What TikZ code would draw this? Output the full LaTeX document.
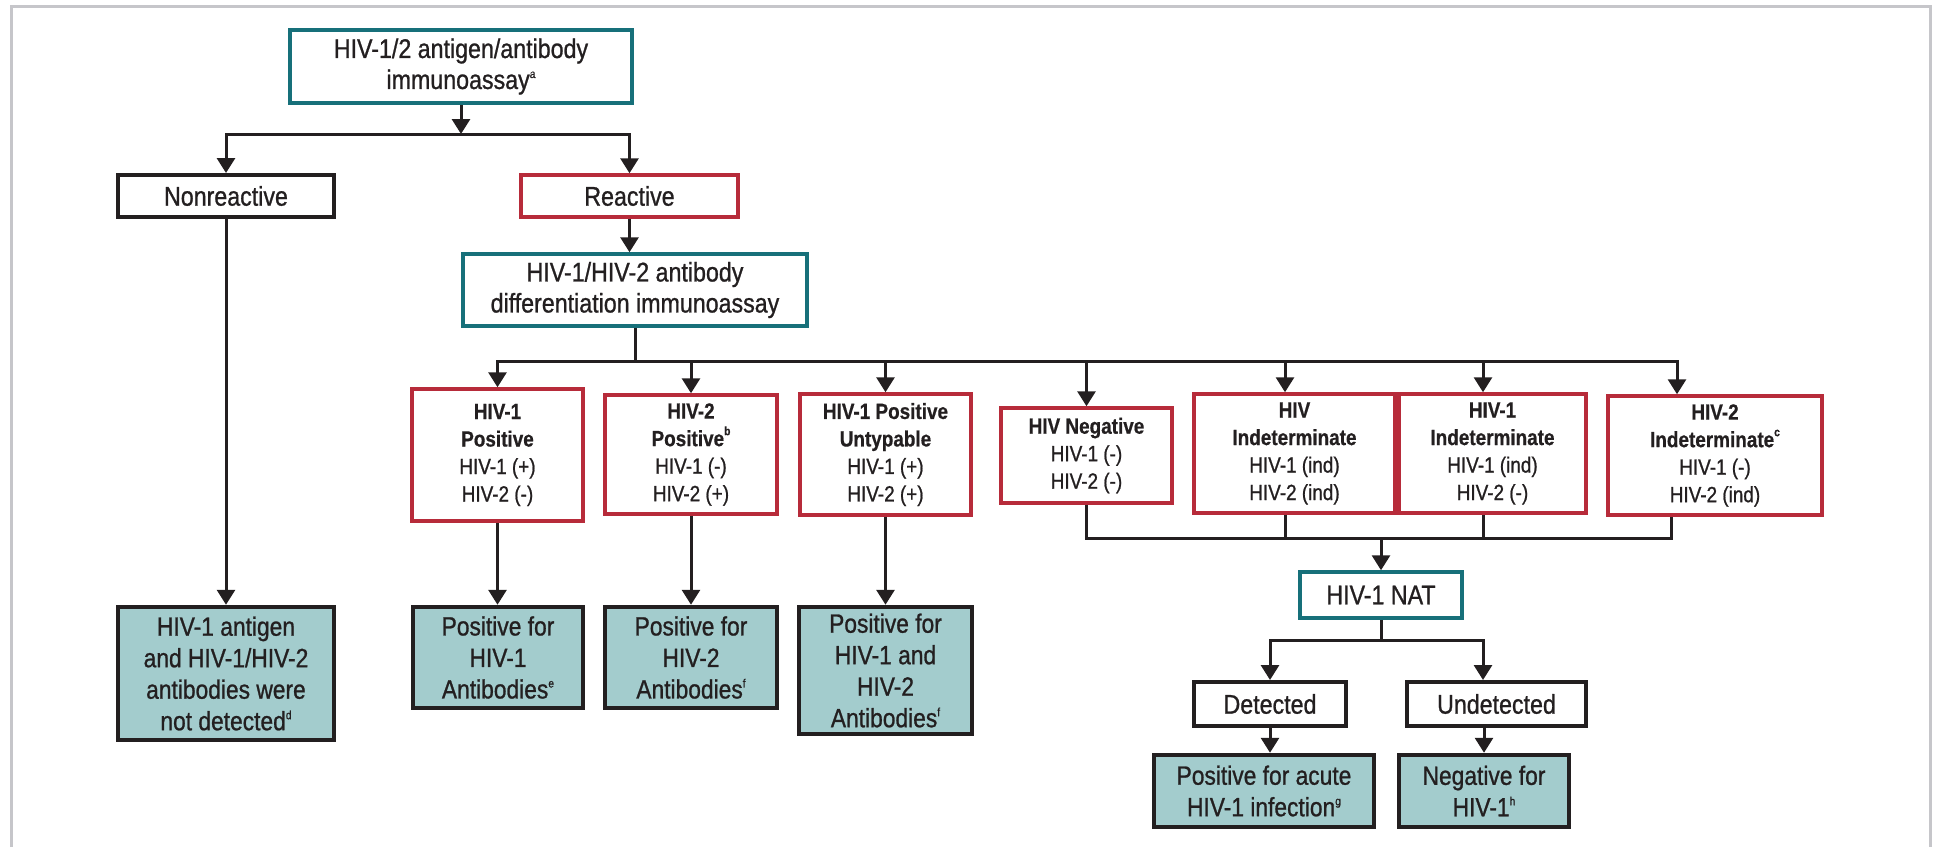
\documentclass[tikz,border=0pt]{standalone}
\usepackage{fontspec}
\setmainfont{Liberation Sans}[FakeStretch=0.86, UprightFeatures={FakeBold=0.9}, BoldFeatures={FakeBold=0.6}]
\usetikzlibrary{arrows.meta}
\definecolor{teal1}{HTML}{17707A}
\definecolor{red1}{HTML}{B72B3A}
\definecolor{fill1}{HTML}{A3CCCD}
\definecolor{ink}{HTML}{231F20}
\definecolor{frame1}{HTML}{C6C6CA}
\newcommand{\fnote}[1]{\raisebox{11pt}{\fontsize{12}{12}\selectfont #1}}
\tikzset{
  box/.style={draw, rectangle, inner sep=0pt, align=center, text=ink, fill=white},
  teal box/.style={box, draw=teal1, line width=3.5pt, font=\fontsize{27}{31}\selectfont},
  plain box/.style={box, draw=ink, line width=4pt, font=\fontsize{27}{31}\selectfont},
  red box/.style={box, draw=red1, line width=3.5pt, font=\fontsize{22}{27.5}\selectfont},
  result/.style={box, draw=ink, fill=fill1, line width=4.5pt, font=\fontsize{26.5}{31.5}\selectfont},
  conn/.style={draw=ink, line width=3pt},
  arr/.style={conn, -{Triangle[width=18pt,length=15pt]}},
  arrs/.style={conn, {Triangle[width=18pt,length=15pt]}-{Triangle[width=18pt,length=15pt]}},
}
\begin{document}
\begin{tikzpicture}[x=1pt, y=-1pt]
\useasboundingbox (0,0) rectangle (1935,847);
\draw[frame1, line width=3pt] (11,847) -- (11,6) -- (1930,6) -- (1930,847);

% top level
\node[teal box, minimum width=342pt, minimum height=73pt] (top) at (461,66.5)
  {HIV-1/2 antigen/antibody\\immunoassay\fnote{a}};
\node[plain box, minimum width=216pt, minimum height=42pt] (nonr) at (226,196) {Nonreactive};
\node[red box, font=\fontsize{27}{31}\selectfont, minimum width=217pt, minimum height=42pt] (reac) at (629.5,196) {Reactive};
\node[teal box, minimum width=344pt, minimum height=72pt] (diff) at (635,290)
  {HIV-1/HIV-2 antibody\\differentiation immunoassay};

% second level (red boxes)
\node[red box, minimum width=171pt, minimum height=132pt] (p1) at (497.5,455)
  {\textbf{HIV-1}\\\textbf{Positive}\\HIV-1 (+)\\HIV-2 (-)};
\node[red box, minimum width=172pt, minimum height=119pt] (p2) at (691,454.5)
  {\textbf{HIV-2}\\\textbf{Positive\fnote{b}}\\HIV-1 (-)\\HIV-2 (+)};
\node[red box, minimum width=171pt, minimum height=121pt] (pu) at (885.5,454.5)
  {\textbf{HIV-1 Positive}\\\textbf{Untypable}\\HIV-1 (+)\\HIV-2 (+)};
\node[red box, minimum width=171pt, minimum height=95pt] (neg) at (1086.5,455.5)
  {\textbf{HIV Negative}\\HIV-1 (-)\\HIV-2 (-)};
\node[red box, minimum width=201pt, minimum height=119pt] (ind) at (1294.5,453.5)
  {\textbf{HIV}\\\textbf{Indeterminate}\\HIV-1 (ind)\\HIV-2 (ind)};
\node[red box, minimum width=187pt, minimum height=119pt] (ind1) at (1492.5,453.5)
  {\textbf{HIV-1}\\\textbf{Indeterminate}\\HIV-1 (ind)\\HIV-2 (-)};
\node[red box, minimum width=214pt, minimum height=119pt] (ind2) at (1715,455.5)
  {\textbf{HIV-2}\\\textbf{Indeterminate\fnote{c}}\\HIV-1 (-)\\HIV-2 (ind)};

% results
\node[result, minimum width=216pt, minimum height=133pt] (rnr) at (226,673.5)
  {HIV-1 antigen\\and HIV-1/HIV-2\\antibodies were\\not detected\fnote{d}};
\node[result, minimum width=170pt, minimum height=101pt] (r1) at (498,657.5)
  {Positive for\\HIV-1\\Antibodies\fnote{e}};
\node[result, minimum width=172pt, minimum height=101pt] (r2) at (691,657.5)
  {Positive for\\HIV-2\\Antibodies\fnote{f}};
\node[result, minimum width=173pt, minimum height=127pt] (ru) at (885.5,670.5)
  {Positive for\\HIV-1 and\\HIV-2\\Antibodies\fnote{f}};

% NAT branch
\node[teal box, minimum width=162pt, minimum height=46pt] (nat) at (1381,595) {HIV-1 NAT};
\node[plain box, minimum width=152pt, minimum height=44pt] (det) at (1270,704) {Detected};
\node[plain box, minimum width=179pt, minimum height=44pt] (undet) at (1496.5,704) {Undetected};
\node[result, minimum width=220pt, minimum height=72pt] (acute) at (1264,791)
  {Positive for acute\\HIV-1 infection\fnote{g}};
\node[result, minimum width=170pt, minimum height=72pt] (negh) at (1484,791)
  {Negative for\\HIV-1\fnote{h}};

% helper coordinates
\coordinate (b1) at (461,134);
\coordinate (b2) at (640,361);
\coordinate (b3) at (1378,538);
\coordinate (b4) at (1381,640);
\coordinate (aind) at ([xshift=-9.5pt]ind.north);
\coordinate (aind1) at ([xshift=-9.5pt]ind1.north);
\coordinate (aind2) at ([xshift=-38pt]ind2.north);
\coordinate (sind) at ([xshift=-9.5pt]ind.south);
\coordinate (sind1) at ([xshift=-9.5pt]ind1.south);
\coordinate (sind2) at ([xshift=-44pt]ind2.south);
\coordinate (aundet) at ([xshift=-13.5pt]undet.north);

% connectors
\draw[arr] (top.south) -- (top.south |- b1);
\draw[arrs] (nonr.north) -- (nonr.north |- b1) -- (reac.north |- b1) -- (reac.north);
\draw[arr] (reac.south) -- (reac.south |- diff.north);
\draw[conn] (diff.south) -- (diff.south |- b2);
\draw[arrs] (p1.north) -- (p1.north |- b2) -- (aind2 |- b2) -- (aind2);
\draw[arr] (p2.north |- b2) -- (p2.north);
\draw[arr] (pu.north |- b2) -- (pu.north);
\draw[arr] (neg.north |- b2) -- (neg.north);
\draw[arr] (aind |- b2) -- (aind);
\draw[arr] (aind1 |- b2) -- (aind1);

\draw[arr] (nonr.south) -- (rnr.north);
\draw[arr] (p1.south) -- (p1.south |- r1.north);
\draw[arr] (p2.south) -- (p2.south |- r2.north);
\draw[arr] (pu.south) -- (pu.south |- ru.north);

\draw[conn] (neg.south) -- (neg.south |- b3) -- (sind2 |- b3) -- (sind2);
\draw[conn] (sind) -- (sind |- b3);
\draw[conn] (sind1) -- (sind1 |- b3);
\draw[arr] (nat.north |- b3) -- (nat.north);

\draw[conn] (nat.south) -- (nat.south |- b4);
\draw[arrs] (det.north) -- (det.north |- b4) -- (aundet |- b4) -- (aundet);
\draw[arr] (det.south) -- (det.south |- acute.north);
\draw[arr] (undet.south -| negh.north) -- (negh.north);
\end{tikzpicture}
\end{document}
